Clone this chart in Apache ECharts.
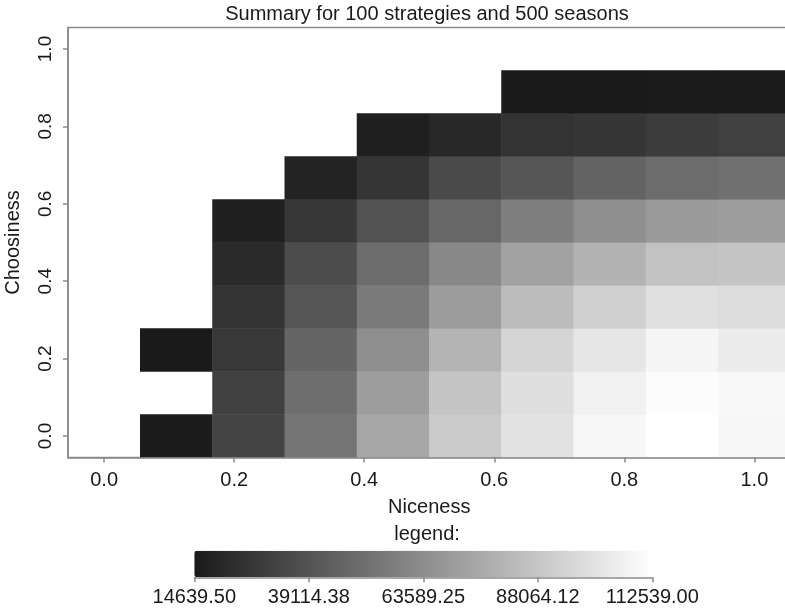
<!DOCTYPE html>
<html>
<head>
<meta charset="utf-8">
<script src="https://cdn.jsdelivr.net/npm/echarts@6/dist/echarts.min.js"></script>
<style>html,body{margin:0;padding:0;background:#fff}#c{width:785px;height:613px}</style>
</head>
<body>
<div id="c"></div>
<script>
// Strategy grid: niceness (x) and choosiness (y), 10 levels each (k/9)
var niceness = ['0.000','0.111','0.222','0.333','0.444','0.556','0.667','0.778','0.889','1.000'];
var choosiness = ['0.000','0.111','0.222','0.333','0.444','0.556','0.667','0.778','0.889','1.000'];
// Summary values per choosiness row (bottom row first); null = no strategy value
var rowC0 = [null, 15495, 32594, 53114, 74917, 89879, 100139, 109117, 112539, 109117];
var rowC1 = [null, null, 30884, 50549, 70642, 87314, 98857, 106552, 111254, 109544];
var rowC2 = [null, 14640, 27464, 46702, 64229, 80474, 94582, 101849, 108262, 104414];
var rowC3 = [null, null, 25327, 39862, 55679, 70214, 83894, 92444, 99284, 97574];
var rowC4 = [null, null, 21480, 36014, 49694, 61664, 72779, 80047, 86459, 87742];
var rowC5 = [null, null, 16777, 27037, 38579, 47557, 57817, 64657, 69359, 71069];
var rowC6 = [null, null, null, 18487, 26182, 35159, 40289, 45847, 49694, 51404];
var rowC7 = [null, null, null, null, 16777, 20625, 25327, 26609, 29174, 30884];
var rowC8 = [null, null, null, null, null, null, 14640, 14800, 14900, 15067];
var rowC9 = [null, null, null, null, null, null, null, null, null, null];
var axisTicks = [0, 0.2, 0.4, 0.6, 0.8, 1.0];
var legendMin = 14639.50;
var legendMax = 112539.00;
var legendTicks = [14639.50, 39114.38, 63589.25, 88064.12, 112539.00];

var rows = [rowC0,rowC1,rowC2,rowC3,rowC4,rowC5,rowC6,rowC7,rowC8,rowC9];
var data = [];
rows.forEach(function(r, yi){ r.forEach(function(v, xi){ if (v !== null) data.push([xi, yi, v]); }); });

var FONT = '"Liberation Sans", Arial, sans-serif';
var TXT = '#1a1a1a';
var AX = '#8a8a8a';
var half = 1/18;

var chart = echarts.init(document.getElementById('c'), null, {renderer:'canvas'});
chart.setOption({
  animation: false,
  backgroundColor: '#fff',
  textStyle: {fontFamily: FONT},
  grid: [
    {left: 68, top: 27.5, width: 722.5, height: 430, show: true, borderColor: AX, borderWidth: 1.5,
      backgroundColor: 'transparent', containLabel: false, outerBoundsMode: 'none'},
    {left: 194.3, top: 550.7, width: 458, height: 26.6, show: false, containLabel: false, outerBoundsMode: 'none'}
  ],
  xAxis: [
    {type: 'category', gridIndex: 0, data: niceness, show: false, position: 'top'},
    {type: 'value', gridIndex: 0, position: 'bottom', min: -half, max: 1 + half, z: 5,
      name: 'Niceness', nameLocation: 'middle', nameGap: 40,
      nameTextStyle: {fontSize: 20, color: TXT, fontFamily: FONT},
      axisLine: {show: true, lineStyle: {color: AX, width: 1.5}},
      axisTick: {show: true, length: 5, lineStyle: {color: AX, width: 1.5}, customValues: axisTicks},
      axisLabel: {fontSize: 20, color: TXT, margin: 13, customValues: axisTicks,
        formatter: function(v){ return Number(v).toFixed(1); }},
      splitLine: {show: false}},
    {type: 'value', gridIndex: 1, position: 'bottom', min: legendMin, max: legendMax, z: 5,
      axisLine: {show: true, lineStyle: {color: AX, width: 1.5}},
      axisTick: {show: true, length: 5, lineStyle: {color: AX, width: 1.5}, customValues: legendTicks},
      axisLabel: {fontSize: 20, color: TXT, margin: 10, customValues: legendTicks,
        formatter: function(v){ return Number(v).toFixed(2); }},
      splitLine: {show: false}}
  ],
  yAxis: [
    {type: 'category', gridIndex: 0, data: choosiness, show: false, position: 'right'},
    {type: 'value', gridIndex: 0, position: 'left', min: -half, max: 1 + half, z: 5,
      name: 'Choosiness', nameLocation: 'middle', nameGap: 45, nameRotate: 90,
      nameTextStyle: {fontSize: 20, color: TXT, fontFamily: FONT},
      axisLine: {show: true, lineStyle: {color: AX, width: 1.5}},
      axisTick: {show: true, length: 5, lineStyle: {color: AX, width: 1.5}, customValues: axisTicks},
      axisLabel: {fontSize: 19, color: TXT, margin: 13, rotate: 90, customValues: axisTicks,
        formatter: function(v){ return Number(v).toFixed(1); }},
      splitLine: {show: false}},
    {type: 'value', gridIndex: 1, show: false, min: 0, max: 1}
  ],
  visualMap: {
    type: 'continuous', seriesIndex: 0, min: legendMin, max: legendMax,
    orient: 'horizontal', left: 194.3, top: 550.7, itemWidth: 26.6, itemHeight: 458,
    padding: 0, calculable: false, text: null, showLabel: false, hoverLink: false,
    inRange: {color: ['#1a1a1a', '#ffffff']}
  },
  graphic: [
    {type: 'text', x: 427, y: 14, z: 10,
      style: {text: 'Summary for 100 strategies and 500 seasons', fill: TXT, fontSize: 20, fontFamily: FONT,
        align: 'center', verticalAlign: 'middle', textAlign: 'center', textVerticalAlign: 'middle'}},
    {type: 'text', x: 427, y: 534, z: 10,
      style: {text: 'legend:', fill: TXT, fontSize: 20, fontFamily: FONT,
        align: 'center', verticalAlign: 'middle', textAlign: 'center', textVerticalAlign: 'middle'}}
  ],
  series: [{
    type: 'heatmap', xAxisIndex: 0, yAxisIndex: 0, data: data,
    itemStyle: {borderWidth: 0}, emphasis: {disabled: true}, progressive: 0
  }]
});
</script>
</body>
</html>
